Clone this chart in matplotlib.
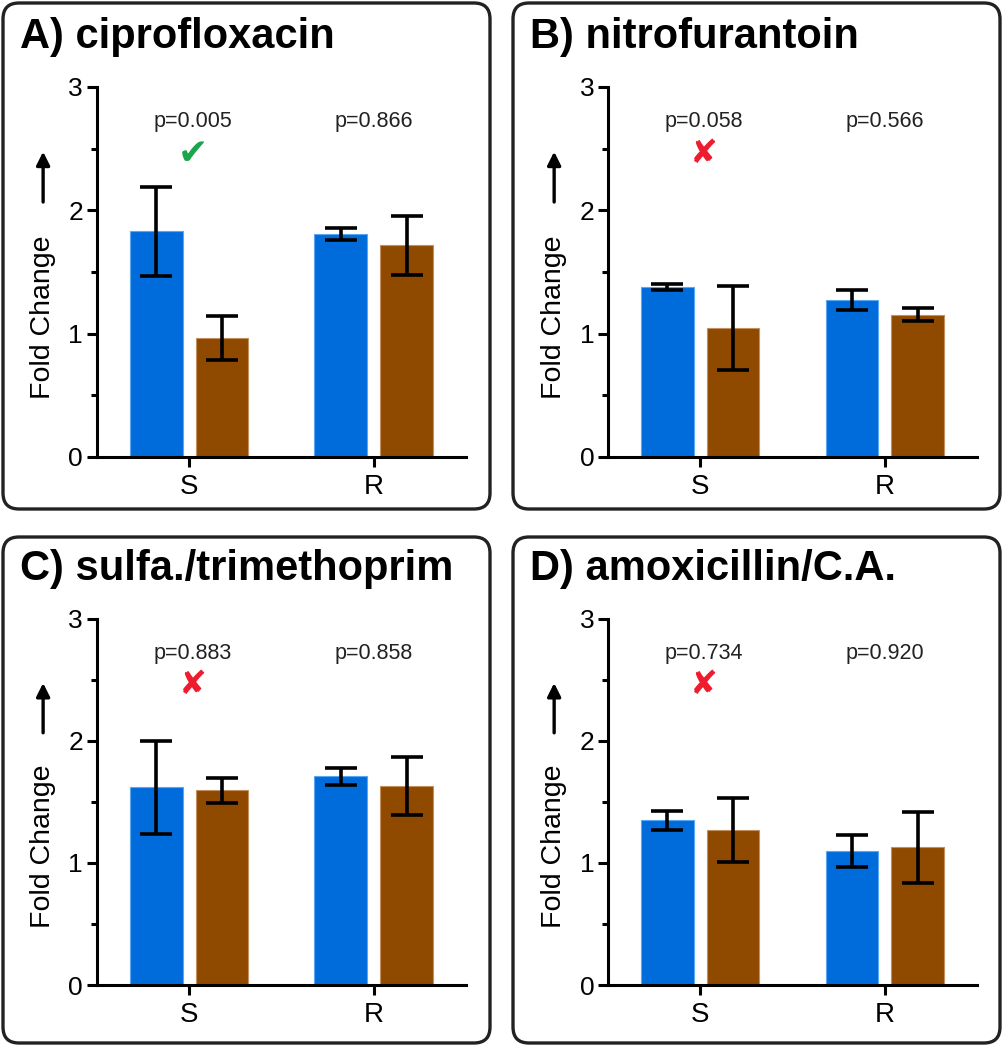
import matplotlib
matplotlib.use("Agg")
import matplotlib.pyplot as plt
from matplotlib.patches import FancyBboxPatch
from matplotlib.ticker import MultipleLocator

plt.rcParams['font.family'] = ['Liberation Sans', 'DejaVu Sans']

# data
titles = ['A) ciprofloxacin', 'B) nitrofurantoin', 'C) sulfa./trimethoprim', 'D) amoxicillin/C.A.']
groups = ['S', 'R']
blue_mean = [[1.83, 1.81], [1.38, 1.27], [1.62, 1.71], [1.35, 1.10]]
blue_err = [[0.36, 0.05], [0.025, 0.08], [0.38, 0.07], [0.08, 0.13]]
brown_mean = [[0.965, 1.715], [1.045, 1.155], [1.595, 1.63], [1.27, 1.13]]
brown_err = [[0.18, 0.24], [0.34, 0.055], [0.10, 0.24], [0.26, 0.29]]
p_s = ['p=0.005', 'p=0.058', 'p=0.883', 'p=0.734']
p_r = ['p=0.866', 'p=0.566', 'p=0.858', 'p=0.920']
significant = [True, False, False, False]

blue = '#006cdc'
brown = '#8f4a00'

fig = plt.figure(figsize=(10.04, 10.5), dpi=100)

# layout in pixels (left, top) for frames and titles
frames = [(3, 3), (513, 3), (3, 537), (513, 537)]
axes_pos = [[0.0966, 0.5648, 0.3675, 0.3524], [0.6056, 0.5648, 0.3675, 0.3524],
            [0.0966, 0.0619, 0.3675, 0.3486], [0.6056, 0.0619, 0.3675, 0.3486]]
title_xy = [(20, 48), (530, 48), (20, 580), (530, 580)]

for i in range(4):
    fx, fy = frames[i]
    box = FancyBboxPatch((fx / 100, (1050 - fy - 506) / 100), 4.87, 5.06,
                         boxstyle='round,pad=0,rounding_size=0.16',
                         transform=fig.dpi_scale_trans, fill=False,
                         edgecolor='#222222', linewidth=2.4)
    fig.add_artist(box)

    tx, ty = title_xy[i]
    fig.text(tx / 1004, 1 - ty / 1050, titles[i], fontsize=30, fontweight='bold',
             ha='left', va='baseline')

    ax = fig.add_axes(axes_pos[i])
    x = [0, 1]
    w = 0.286
    ax.bar([v - 0.178 for v in x], blue_mean[i], width=w, color=blue,
           edgecolor='#5aa6f0', linewidth=0.8, zorder=2)
    ax.bar([v + 0.178 for v in x], brown_mean[i], width=w, color=brown,
           edgecolor='#c49060', linewidth=0.8, zorder=2)
    ax.errorbar([v - 0.178 for v in x], blue_mean[i], yerr=blue_err[i], fmt='none',
                ecolor='black', elinewidth=2.6, capsize=11.5, capthick=2.6, zorder=3)
    ax.errorbar([v + 0.178 for v in x], brown_mean[i], yerr=brown_err[i], fmt='none',
                ecolor='black', elinewidth=2.6, capsize=11.5, capthick=2.6, zorder=3)

    ax.text(0.02, 2.72, p_s[i], ha='center', va='center', fontsize=15.5, color='#222222')
    ax.text(1.0, 2.72, p_r[i], ha='center', va='center', fontsize=15.5, color='#222222')
    if significant[i]:
        ax.text(0.02, 2.46, '\u2714', ha='center', va='center', fontsize=26,
                color='#1ca64c', family=['DejaVu Sans'])
    else:
        ax.text(0.02, 2.46, '\u2718', ha='center', va='center', fontsize=24,
                color='#ee1c2e', family=['DejaVu Sans'])

    ax.set_xlim(-0.5, 1.5)
    ax.set_ylim(0, 3)
    ax.set_xticks(x)
    ax.set_xticklabels(groups, fontsize=20)
    ax.set_yticks([0, 1, 2, 3])
    ax.set_yticklabels(['0', '1', '2', '3'], fontsize=19)
    ax.yaxis.set_minor_locator(MultipleLocator(0.5))
    ax.tick_params(axis='both', which='major', length=7, width=2.2, direction='out', pad=3)
    ax.tick_params(axis='y', which='minor', length=4, width=2.2, direction='out')
    ax.tick_params(axis='x', which='major', pad=5)
    for s in ['top', 'right']:
        ax.spines[s].set_visible(False)
    for s in ['left', 'bottom']:
        ax.spines[s].set_linewidth(2.2)

    ax.text(-0.146, 0.378, 'Fold Change', rotation=90, ha='center', va='center',
            fontsize=20.5, transform=ax.transAxes)
    ax.annotate('', xy=(-0.146, 0.825), xytext=(-0.146, 0.689), xycoords='axes fraction',
                arrowprops=dict(arrowstyle='-|>', lw=2.4, color='black', mutation_scale=20,
                                shrinkA=0, shrinkB=0))

fig.savefig('out.png', dpi=100)
